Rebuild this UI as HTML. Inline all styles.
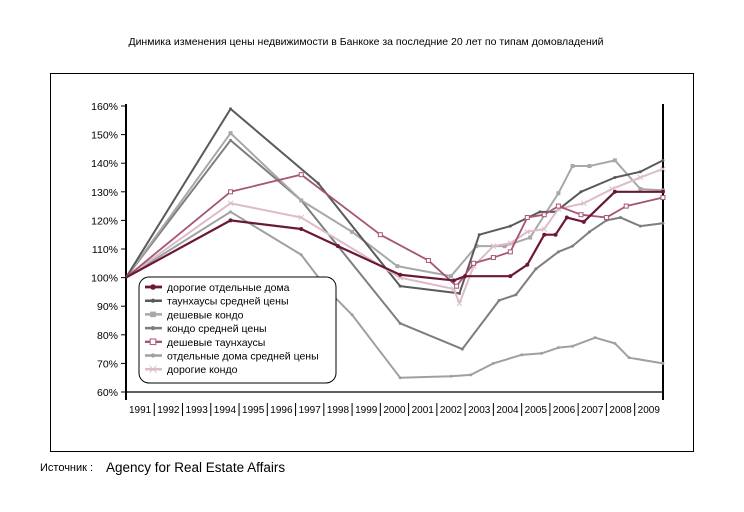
<!DOCTYPE html>
<html><head><meta charset="utf-8">
<style>
body{margin:0;background:#fff;width:744px;height:507px;overflow:hidden;font-family:"Liberation Sans",sans-serif;}
svg text{font-family:"Liberation Sans",sans-serif;}
</style></head>
<body>
<svg width="744" height="507">
<text x="366" y="45" font-size="10.5" text-anchor="middle">Динмика изменения цены недвижимости в Банкоке за последние 20 лет по типам домовладений</text>
<rect x="50.5" y="73.5" width="643" height="378" fill="none" stroke="#000" stroke-width="1"/>
<g id="axes"></g>
<g id="series"></g>
<rect x="139" y="277" width="197" height="106" rx="10" fill="#fff" stroke="#000" stroke-width="1"/>
<g id="legend"></g>
<text x="40" y="471" font-size="11">Источник  :</text>
<text x="106" y="472" font-size="13.5">Agency for Real Estate Affairs</text>
</svg>
<script>
const yearLabels=[1991,1992,1993,1994,1995,1996,1997,1998,1999,2000,2001,2002,2003,2004,2005,2006,2007,2008,2009];
const yTicks=[60,70,80,90,100,110,120,130,140,150,160];
const seriesNames=["дорогие отдельные дома","таунхаусы средней цены","дешевые кондо","кондо средней цены","дешевые таунхаусы","отдельные дома средней цены","дорогие кондо"];
const t1=[1991,1994.7,1997.2,1998.5,2000.7,2002.6,2003,2004.6,2005.2,2005.8,2006.2,2006.6,2007.2,2008.3,2010];
const v1=[100,120,117,111,101,99,100.5,100.5,104.5,115,115,121,119.5,130,130];
const t2=[1991,1994.7,1997.8,2000.7,2002.8,2003.5,2004.6,2005.65,2006.2,2007.1,2008.3,2009.2,2010];
const v2=[100,159,133,97,94.5,115,118,123,123,130,135,137,141];
const t3=[1991,1994.7,1997.2,1999,2000.6,2002.5,2003.4,2004.4,2005.3,2006.3,2006.8,2007.4,2008.3,2009.2,2010];
const v3=[100,150.5,127,116,104,100.5,111,111,114,129.5,139,139,141,131,130.5];
const t4=[1991,1994.7,1997.2,2000.7,2002.9,2004.2,2004.8,2005.5,2006.3,2006.8,2007.4,2008,2008.5,2009.2,2010];
const v4=[100,148,127,84,75,92,94,103,109,111,116,120,121,118,119];
const t5=[1991,1994.7,1997.2,2000,2001.7,2002.7,2003.3,2004,2004.6,2005.2,2005.8,2006.3,2007.1,2008,2008.7,2010];
const v5=[100,130,136,115,106,97,105,107,109,121,122,125,122,121,125,128];
const t6=[1991,1994.7,1997.2,1998.2,1999,2000.7,2002.5,2003.2,2004,2005,2005.7,2006.3,2006.8,2007.6,2008.3,2008.8,2010];
const v6=[100,123,108,95,87,65,65.5,66,70,73,73.5,75.5,76,79,77,72,70];
const t7=[1991,1994.7,1997.2,2000.7,2002.6,2002.8,2003.3,2004,2004.6,2005.2,2005.8,2006.3,2007.2,2008.2,2009.2,2010];
const v7=[100,126,121,100,96,91,104,111,112,116,117,124,126,131,135,138];
const styles=[{c:"#6b1838",w:2.2,m:"dot"},{c:"#5a5a5a",w:2,m:"tri"},{c:"#a8a8a8",w:2,m:"sq"},{c:"#7e7e7e",w:2,m:"star"},{c:"#a65477",w:1.8,m:"sqo"},{c:"#a0a0a0",w:2,m:"dash"},{c:"#dcbccb",w:2,m:"x"}];
const T=[t1,t2,t3,t4,t5,t6,t7],V=[v1,v2,v3,v4,v5,v6,v7];
const NS="http://www.w3.org/2000/svg";
const x=t=>126+(t-1991)*28.26;
const y=v=>392-(v-60)*2.86;
function mk(tag,attrs,parent){const e=document.createElementNS(NS,tag);for(const k in attrs)e.setAttribute(k,attrs[k]);parent.appendChild(e);return e;}
const ax=document.getElementById('axes');
let e=mk('line',{x1:126,y1:y(160)-2,x2:126,y2:400,stroke:"#000","stroke-width":2},ax);


e=mk('line',{x1:663,y1:y(160)-2,x2:663,y2:400,stroke:"#000","stroke-width":2},ax);


e=mk('line',{x1:126,y1:392,x2:663,y2:392,stroke:"#000","stroke-width":1.2},ax);


yTicks.forEach(v=>{
 mk('line',{x1:121,y1:y(v),x2:126,y2:y(v),stroke:"#000"},ax);
 const t=mk('text',{x:118,y:y(v)+4,"font-size":10.5,"text-anchor":"end"},ax);
 t.textContent=v+"%";
 
 
});
yearLabels.forEach((yr,i)=>{
 const t=mk('text',{x:x(yr+0.5),y:413,"font-size":10,"text-anchor":"middle"},ax);
 t.textContent=yr;
 
 
 if(i>0){mk('line',{x1:x(yr),y1:403,x2:x(yr),y2:416,stroke:"#000"},ax);}
});
const sg=document.getElementById('series');
function marker(m,cx,cy,c,g,s){
 s=s||1;
 if(m==="dot")mk('circle',{cx,cy,r:2*s,fill:c},g);
 else if(m==="sq")mk('rect',{x:cx-2*s,y:cy-2*s,width:4*s,height:4*s,fill:c},g);
 else if(m==="sqo")mk('rect',{x:cx-2*s,y:cy-2*s,width:4*s,height:4*s,fill:"#fff",stroke:c},g);
 else if(m==="x"){mk('path',{d:`M${cx-2.5*s} ${cy-2.5*s}L${cx+2.5*s} ${cy+2.5*s}M${cx+2.5*s} ${cy-2.5*s}L${cx-2.5*s} ${cy+2.5*s}`,stroke:c,"stroke-width":1},g);}
 else mk('circle',{cx,cy,r:1.5*s,fill:c},g);
}
[5,3,2,1,6,4,0].forEach(i=>{
 const st=styles[i];
 const g=mk('g',{},sg);
 
 
 const pts=T[i].map((t,j)=>x(t)+","+y(V[i][j])).join(" ");
 const pl=mk('polyline',{points:pts,fill:"none",stroke:st.c,"stroke-width":st.w,"stroke-linejoin":"round"},g);
 
 
 T[i].forEach((t,j)=>{if(j>0)marker(st.m,x(t),y(V[i][j]),st.c,g);});
});
const lg=document.getElementById('legend');
seriesNames.forEach((n,i)=>{
 const st=styles[i];const ly=287+i*13.7;
 const g=mk('g',{},lg);
 
 
 mk('line',{x1:145,y1:ly,x2:162,y2:ly,stroke:st.c,"stroke-width":st.w+0.5},g);
 marker(st.m,153,ly,st.c,g,1.4);
 const t=mk('text',{x:167,y:ly+4,"font-size":10.5},g);
 t.textContent=n;
});
</script>
</body></html>
